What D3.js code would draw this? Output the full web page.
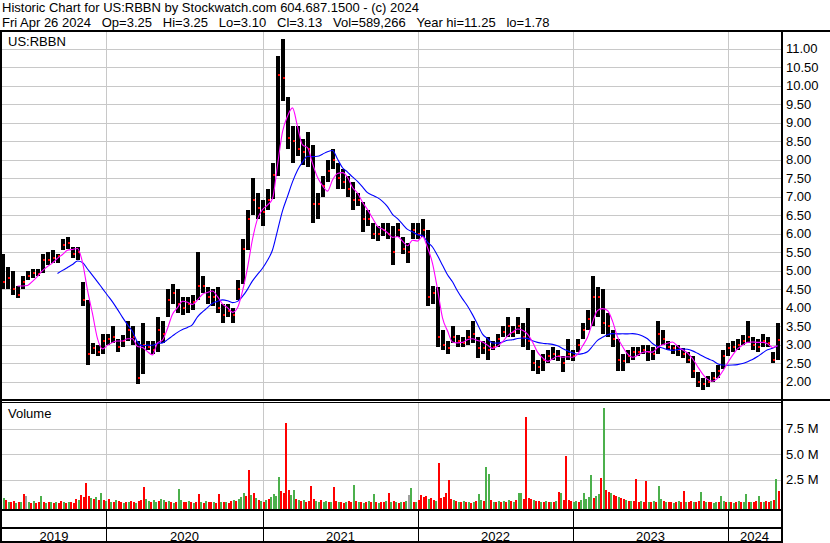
<!DOCTYPE html>
<html><head><meta charset="utf-8">
<script src="https://cdn.jsdelivr.net/npm/d3@7/dist/d3.min.js"></script>
<style>
html,body{margin:0;padding:0;background:#fff;}
svg{display:block;}
text{font-family:Arial,"Liberation Sans",sans-serif;font-size:13px;fill:#000;}
</style>
</head><body>
<svg id="chart" width="830" height="543"></svg>
<script>
// ---- DATA (each price entry = one ~8 trading-day period) ----
const hi = [
5.45,5.1,5.0,4.6,4.85,5.0,5.05,5.05,5.45,5.5,
5.55,5.45,5.85,5.9,5.65,5.65,4.7,4.2,3.05,3.0,
3.3,3.3,3.5,3.15,3.25,3.65,3.5,3.1,3.6,3.1,
3.1,3.75,3.65,4.5,4.65,4.5,4.3,4.3,4.35,5.5,
4.85,4.55,4.5,4.55,4.1,4.1,4.0,4.75,5.85,6.65,
7.5,7.1,6.9,7.2,7.9,10.8,11.25,9.7,8.9,8.9,
8.55,8.75,8.4,7.1,7.55,8.0,8.3,7.9,7.75,7.55,
7.4,7.1,6.85,6.65,6.3,6.2,6.3,6.3,6.2,6.3,
5.9,5.75,6.3,6.3,6.4,6.1,4.6,4.55,3.4,3.1,
3.5,3.25,3.2,3.4,3.65,3.2,3.1,3.2,3.1,3.3,
3.5,3.75,3.5,3.75,3.6,4.0,2.85,2.6,2.75,2.85,
2.95,2.85,2.7,3.15,2.85,3.15,3.6,3.95,4.85,4.55,
4.5,3.85,3.4,3.15,2.75,2.85,2.95,2.95,3.0,3.0,
2.95,3.65,3.4,3.1,3.0,3.0,2.9,2.8,2.7,2.25,
2.1,2.15,2.25,2.45,2.85,3.05,3.1,3.15,3.25,3.65,
3.2,3.15,3.3,3.2,2.8,3.6];
const lo = [
4.5,4.5,4.35,4.25,4.5,4.75,4.8,4.85,4.95,5.15,
5.2,5.2,5.55,5.6,5.35,5.3,4.05,2.45,2.75,2.7,
2.75,3.0,3.05,2.8,2.95,3.1,3.0,1.95,2.2,2.85,
2.75,2.8,3.05,3.75,4.1,3.85,3.8,3.85,3.95,4.2,
4.4,4.1,4.05,3.85,3.6,3.75,3.6,4.2,4.65,5.55,
6.5,6.4,6.2,6.65,6.95,7.55,9.6,8.3,7.9,8.1,
7.85,7.8,6.3,6.4,7.0,7.4,7.75,7.2,7.2,7.0,
6.65,6.75,6.05,6.2,5.85,5.8,5.95,5.85,5.15,5.9,
5.45,5.2,5.85,5.85,5.9,4.05,4.1,2.95,2.85,2.75,
3.05,2.95,2.95,3.0,3.05,2.65,2.75,2.6,2.85,2.95,
3.2,3.2,3.2,3.3,2.95,2.85,2.3,2.2,2.3,2.5,
2.6,2.55,2.25,2.6,2.55,2.8,3.15,3.4,3.5,3.75,
3.3,3.2,2.95,2.3,2.3,2.5,2.6,2.7,2.75,2.55,
2.6,2.75,3.0,2.85,2.75,2.7,2.65,2.5,2.1,1.85,
1.78,1.85,2.0,2.1,2.35,2.7,2.8,2.85,3.0,3.05,
2.85,2.8,2.95,2.95,2.5,2.6];
const close = [
4.7,4.8,4.5,4.35,4.7,4.85,4.95,4.9,5.3,5.3,
5.35,5.4,5.7,5.75,5.45,5.5,4.2,2.75,2.9,2.8,
3.1,3.15,3.2,2.95,3.1,3.4,3.2,2.1,3.0,2.95,
2.85,3.4,3.3,4.2,4.4,4.1,4.0,4.1,4.15,4.6,
4.6,4.3,4.3,4.0,3.8,3.9,3.8,4.5,5.6,6.4,
6.9,6.7,6.6,6.9,7.6,10.3,10.2,8.6,8.5,8.3,
8.2,8.3,6.8,6.8,7.3,7.7,8.0,7.5,7.4,7.2,
6.9,6.9,6.4,6.4,6.0,6.0,6.1,6.0,5.5,6.1,
5.6,5.5,6.1,6.0,6.1,4.3,4.4,3.2,3.0,2.9,
3.2,3.1,3.05,3.2,3.3,2.9,2.9,2.85,2.95,3.15,
3.35,3.5,3.35,3.5,3.2,3.1,2.5,2.4,2.6,2.7,
2.75,2.7,2.5,2.75,2.7,3.0,3.4,3.7,4.3,4.3,
3.6,3.5,3.15,2.6,2.55,2.7,2.8,2.8,2.85,2.8,
2.75,3.3,3.15,2.95,2.9,2.85,2.75,2.6,2.3,2.0,
1.95,2.0,2.1,2.3,2.7,2.9,2.95,3.0,3.1,3.2,
3.0,2.95,3.1,3.05,2.6,3.13];
// volume (millions), two entries per price period
const volume = [
0.85,0.7,0.55,0.35,0.3,0.45,0.25,0.35,0.3,1.1,0.9,0.3,0.25,0.4,0.2,0.3,0.9,0.35,0.25,0.3,
0.3,0.2,0.35,0.25,0.4,0.3,0.2,0.35,0.3,0.25,0.6,0.5,1.0,0.8,2.2,0.9,0.7,0.6,0.8,0.5,
1.2,0.5,0.4,0.6,0.35,0.3,0.5,0.4,0.3,0.25,0.35,0.3,0.4,0.3,0.25,0.45,0.5,1.8,0.6,0.4,
0.35,0.5,0.3,0.4,0.6,0.5,0.3,0.4,0.35,0.25,0.3,1.6,0.5,0.3,0.35,0.4,0.3,0.25,0.3,1.1,
0.3,0.25,0.4,0.3,0.35,0.3,0.25,1.1,0.3,0.35,0.3,0.25,0.4,0.5,0.4,0.6,0.8,1.2,0.9,3.5,
1.0,1.2,0.7,0.5,0.4,0.35,0.5,0.6,0.8,1.1,0.9,2.8,1.4,1.2,8.1,1.5,1.0,1.5,0.6,0.5,
0.4,0.5,0.35,0.4,1.9,0.6,0.4,0.35,0.5,0.3,0.4,0.3,0.35,1.8,0.4,0.3,0.35,0.25,0.3,0.4,
0.3,2.0,0.4,0.3,0.35,0.25,0.3,0.4,0.3,1.1,0.3,0.25,0.35,0.3,0.4,1.2,0.3,0.4,0.3,0.25,
0.3,0.35,0.4,1.0,1.7,0.3,0.35,0.5,1.0,0.8,0.9,0.6,0.7,0.5,0.4,4.15,0.7,0.8,1.2,2.5,
0.6,0.5,0.4,0.35,0.3,0.4,0.3,0.35,0.25,0.3,0.4,1.1,0.5,0.4,3.75,3.1,0.5,0.35,0.3,0.4,
0.3,0.4,0.35,0.5,0.4,0.3,0.5,1.2,1.2,0.6,8.6,0.7,0.6,0.5,0.45,0.4,0.3,0.35,0.4,0.3,
0.35,0.3,0.4,1.3,1.2,0.5,4.85,0.5,0.4,0.3,0.4,0.35,0.5,1.2,0.6,0.8,3.0,0.7,0.9,1.1,
2.65,9.5,1.5,1.3,1.2,1.0,0.9,0.8,0.7,0.6,0.5,0.4,0.45,0.4,2.6,0.35,0.4,0.3,2.4,0.35,
0.3,0.4,0.35,1.9,0.6,0.4,0.3,0.35,0.3,0.25,0.3,0.4,0.3,1.4,0.35,0.3,0.4,0.35,0.3,0.45,
1.3,0.4,0.3,0.35,0.3,0.25,0.3,0.35,0.9,0.4,0.3,0.35,0.3,0.25,0.3,0.4,0.3,0.35,1.1,0.3,
0.35,0.3,0.4,0.9,0.3,0.35,0.4,0.3,0.45,0.5,2.6,1.4];
// day direction per volume bar: u = up (green), d = down (red), n = unchanged (grey)
const volDir = [
"dudud","dudud","nudud","dudud",
"ududd","ududd","duddd","dudud",
"ududu","duddu","duddu","ddduu",
"duudu","ududu","duudd","ududd",
"ududd","uddud","uddud","uuudd",
"ududu","duduu","uuddd","duudu",
"duddd","duudu","ududd","uddud",
"dudud","ududu","duddu","dudud",
"udunu","duddd","duddu","ddddd",
"dudud","ududu","duudu","ududu",
"dudud","uduud","dddud","dudud",
"ududu","ddddu","uduuu","uuduu",
"duddu","ddudd","ududd","duddu",
"duduu","duddu","duddu","ddudd",
"ududd","uuduu","dudud","uduud",
"uddud","uddud","ud"
].join("").split("");

const years = ["2019","2020","2021","2022","2023","2024"];
// year boundaries, in price-period units
const yearBounds = [0.4, 21.2, 52.6, 83.6, 114.6, 145.6, 156.2];
const priceTicks = d3.range(2, 11.001, 0.5);
const volTicks = [2.5, 5, 7.5];
const maShort = 4, maLong = 12;
const title1 = "Historic Chart for US:RBBN by Stockwatch.com 604.687.1500 - (c) 2024";
const title2Fields = ["Fri Apr 26 2024", "Op=3.25", "Hi=3.25", "Lo=3.10", "Cl=3.13", "Vol=589,266", "Year hi=11.25", "lo=1.78"];
const symbol = "US:RBBN";

// ---- LAYOUT ----
const W = 830, H = 543;
const plotL = 2, plotR = 781;
const svg = d3.select("#chart");
const N = hi.length;
const x = d3.scaleLinear().domain([0, 156]).range([0, 780]);
const y = d3.scaleLinear().domain([2, 11]).range([381.7, 48.7]);
const yv = d3.scaleLinear().domain([0, 7.5]).range([505.2, 428.7]);
const priceTop = 32, priceBot = 400, volTop = 403, volBot = 509;

svg.append("rect").attr("width", W).attr("height", H).attr("fill", "#fff");

const grid = svg.append("g").attr("stroke", "#c8c8c8").attr("stroke-width", 1).attr("shape-rendering", "crispEdges");
priceTicks.forEach(t => grid.append("line").attr("x1", plotL).attr("x2", plotR)
  .attr("y1", Math.round(y(t)) + 0.5).attr("y2", Math.round(y(t)) + 0.5));
volTicks.forEach(t => grid.append("line").attr("x1", plotL).attr("x2", plotR)
  .attr("y1", Math.round(yv(t)) + 0.5).attr("y2", Math.round(yv(t)) + 0.5));
yearBounds.slice(1, -1).forEach(b => {
  const xx = Math.round(x(b)) + 0.5;
  grid.append("line").attr("x1", xx).attr("x2", xx).attr("y1", priceTop).attr("y2", priceBot);
  grid.append("line").attr("x1", xx).attr("x2", xx).attr("y1", volTop).attr("y2", volBot);
});

// price bars (high-low range of each period)
const idx = d3.range(N);
svg.append("g").attr("fill", "#000").attr("shape-rendering", "crispEdges")
  .selectAll("rect").data(idx).join("rect")
  .attr("x", i => x(i) + 1).attr("width", 4)
  .attr("y", i => y(hi[i])).attr("height", i => Math.max(1, y(lo[i]) - y(hi[i])));
// red close marks
svg.append("g").attr("fill", "#ff0000").attr("shape-rendering", "crispEdges")
  .selectAll("rect").data(idx).join("rect")
  .attr("x", i => x(i) + 3).attr("width", 2)
  .attr("y", i => y(close[i]) - 1).attr("height", 2);

// moving averages
function sma(arr, n) {
  return arr.map((v, i) => i < n - 1 ? null : d3.mean(arr.slice(i - n + 1, i + 1)));
}
const line = d3.line().curve(d3.curveMonotoneX).defined(d => d.v != null).x(d => x(d.i + 0.5)).y(d => y(d.v));
const maS = sma(close, maShort).map((v, i) => ({i, v}));
const maL = sma(close, maLong).map((v, i) => ({i, v}));
svg.append("path").datum(maL).attr("d", line).attr("fill", "none").attr("stroke", "#0000ff").attr("stroke-width", 1.1);
svg.append("path").datum(maS).attr("d", line).attr("fill", "none").attr("stroke", "#ff00ff").attr("stroke-width", 1.1);

// volume bars
const colour = {u: "#4cb04c", d: "#ff0000", n: "#a0a0a0"};
svg.append("g").attr("shape-rendering", "crispEdges")
  .selectAll("rect").data(volume).join("rect")
  .attr("x", (v, j) => x(j / 2 + 0.25) - 1).attr("width", 2)
  .attr("y", v => yv(v)).attr("height", v => volBot - yv(v))
  .attr("fill", (v, j) => colour[volDir[j]] || "#ff0000");

// frame
const frame = svg.append("g").attr("fill", "#000").attr("shape-rendering", "crispEdges");
frame.append("rect").attr("x", 0).attr("y", 30).attr("width", W).attr("height", 2);
frame.append("rect").attr("x", 0).attr("y", 30).attr("width", 2).attr("height", H - 30);
frame.append("rect").attr("x", plotR).attr("y", 30).attr("width", 2).attr("height", H - 30);
frame.append("rect").attr("x", 0).attr("y", 399).attr("width", W).attr("height", 2);
frame.append("rect").attr("x", 0).attr("y", 402).attr("width", plotR).attr("height", 1);
frame.append("rect").attr("x", 0).attr("y", volBot).attr("width", plotR).attr("height", 2);
frame.append("rect").attr("x", 0).attr("y", 527).attr("width", plotR).attr("height", 2);
frame.append("rect").attr("x", 0).attr("y", 541).attr("width", plotR).attr("height", 2);
yearBounds.slice(1, -1).forEach(b => {
  frame.append("rect").attr("x", Math.round(x(b))).attr("y", volBot).attr("width", 1).attr("height", H - volBot);
});

// right axes
const ax = svg.append("g").attr("transform", `translate(${plotR + 1},0)`)
  .call(d3.axisRight(y).tickValues(priceTicks).tickSize(0).tickPadding(4).tickFormat(d3.format(".2f")));
ax.select(".domain").remove();
const axv = svg.append("g").attr("transform", `translate(${plotR + 1},0)`)
  .call(d3.axisRight(yv).tickValues(volTicks).tickSize(0).tickPadding(4).tickFormat(d => d3.format(".1f")(d) + " M"));
axv.select(".domain").remove();
svg.selectAll(".tick text").attr("font-size", 13).attr("font-family", "Arial, 'Liberation Sans', sans-serif").attr("fill", "#000").attr("dy", "0.3em");

// year labels
years.forEach((yr, i) => {
  svg.append("text").attr("x", (x(yearBounds[i]) + x(yearBounds[i + 1])) / 2).attr("y", 540.5)
    .attr("text-anchor", "middle").text(yr);
});

// titles
svg.append("text").attr("x", 2).attr("y", 11.5).text(title1);
svg.append("text").attr("x", 2).attr("y", 26.5).text(title2Fields.join("\u00a0\u00a0\u00a0"));
svg.append("text").attr("x", 8).attr("y", 46).text(symbol);
svg.append("text").attr("x", 8).attr("y", 417.5).text("Volume");
</script>
</body></html>
